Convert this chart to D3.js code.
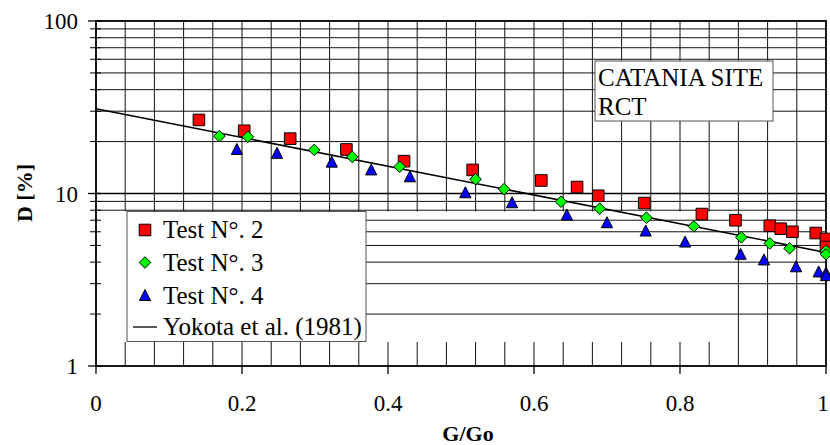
<!DOCTYPE html>
<html>
<head>
<meta charset="utf-8">
<script src="https://cdn.jsdelivr.net/npm/d3@7/dist/d3.min.js"></script>
<style>
  html, body { margin: 0; padding: 0; background: #fff; }
  svg { display: block; }
</style>
</head>
<body>
<svg id="chart" width="830" height="445" font-family="'Liberation Serif', 'DejaVu Serif', 'Times New Roman', serif"></svg>
<script>
// Damping ratio D [%] versus normalised shear modulus G/Go, Catania site (RCT)
const test2X = [0.141, 0.203, 0.266, 0.343, 0.422, 0.516, 0.610, 0.659, 0.688, 0.751, 0.830, 0.876, 0.923, 0.938, 0.954, 0.986, 1.000, 1.000];
const test2D = [26.7, 23.1, 20.8, 18.0, 15.4, 13.7, 11.9, 10.9, 9.7, 8.8, 7.6, 7.0, 6.5, 6.25, 6.0, 5.9, 5.45, 4.9];

const test3X = [0.169, 0.208, 0.299, 0.351, 0.416, 0.520, 0.559, 0.637, 0.690, 0.754, 0.819, 0.884, 0.923, 0.950, 1.000, 1.000];
const test3D = [21.5, 21.3, 17.9, 16.3, 14.3, 12.1, 10.6, 8.96, 8.17, 7.24, 6.45, 5.57, 5.14, 4.81, 4.65, 4.44];

const test4X = [0.193, 0.248, 0.323, 0.377, 0.430, 0.506, 0.570, 0.645, 0.700, 0.753, 0.807, 0.883, 0.915, 0.959, 0.990, 1.000, 1.000];
const test4D = [18.0, 17.1, 15.2, 13.7, 12.5, 10.1, 8.84, 7.5, 6.77, 6.06, 5.23, 4.44, 4.12, 3.76, 3.51, 3.46, 3.34];

// Yokota et al. (1981) curve: straight line in semi-log space
const yokotaX = [0, 1];
const yokotaD = [31.0, 4.55];

const xTickValues = [0, 0.2, 0.4, 0.6, 0.8, 1];
const xTickLabels = ["0", "0.2", "0.4", "0.6", "0.8", "1"];
const yTickValues = [1, 10, 100];
const yTickLabels = ["1", "10", "100"];

const legendLabels = ["Test N°. 2", "Test N°. 3", "Test N°. 4", "Yokota et al. (1981)"];
const siteLines = ["CATANIA SITE", "RCT"];

const svg = d3.select("#chart");
const x = d3.scaleLinear().domain([0, 1]).range([96, 826]);
const y = d3.scaleLog().domain([1, 100]).range([366, 21]);

// vertical grid every 0.04
const xGrid = d3.range(1, 25).map(i => +(i * 0.04).toFixed(2));
svg.append("g").selectAll("line").data(xGrid).join("line")
  .attr("x1", d => x(d)).attr("x2", d => x(d))
  .attr("y1", y(100)).attr("y2", y(1))
  .attr("stroke", "#111").attr("stroke-width", 1);

// blank band behind the legend area
svg.append("rect").attr("x", 97).attr("y", 211.5).attr("width", 628).attr("height", 130.5).attr("fill", "#fff");

// horizontal grid at 2..9 of each decade
const yGrid = [];
[1, 10].forEach(dec => { for (let k = 2; k <= 9; k++) yGrid.push(k * dec); });
svg.append("g").selectAll("line").data(yGrid).join("line")
  .attr("x1", x(0)).attr("x2", x(1))
  .attr("y1", d => y(d)).attr("y2", d => y(d))
  .attr("stroke", "#111").attr("stroke-width", 1);
svg.append("line").attr("x1", x(0)).attr("x2", x(1)).attr("y1", y(10)).attr("y2", y(10))
  .attr("stroke", "#000").attr("stroke-width", 1.3);

svg.append("rect").attr("x", 97).attr("y", 211.5).attr("width", 30).attr("height", 130.5).attr("fill", "#fff");

// frame
svg.append("rect").attr("x", x(0)).attr("y", y(100)).attr("width", x(1) - x(0)).attr("height", y(1) - y(100))
  .attr("fill", "none").attr("stroke", "#000").attr("stroke-width", 1.8);

// y ticks crossing the axis
svg.append("g").selectAll("line").data(yGrid).join("line")
  .attr("x1", 90).attr("x2", 101).attr("y1", d => y(d)).attr("y2", d => y(d))
  .attr("stroke", "#000").attr("stroke-width", 1);
svg.append("g").selectAll("line").data(yTickValues).join("line")
  .attr("x1", 88).attr("x2", 101).attr("y1", d => y(d)).attr("y2", d => y(d))
  .attr("stroke", "#000").attr("stroke-width", 1.3);

// x major ticks below axis
svg.append("g").selectAll("line").data(xTickValues).join("line")
  .attr("x1", d => x(d)).attr("x2", d => x(d)).attr("y1", y(1)).attr("y2", y(1) + 8)
  .attr("stroke", "#000").attr("stroke-width", 1.3);

// tick labels
svg.append("g").selectAll("text").data(yTickValues).join("text")
  .attr("x", 78).attr("y", d => y(d)).attr("dy", "0.35em")
  .attr("text-anchor", "end").attr("font-size", 23)
  .text((d, i) => yTickLabels[i]);
svg.append("g").selectAll("text").data(xTickValues).join("text")
  .attr("x", d => Math.min(x(d), 823)).attr("y", 411)
  .attr("text-anchor", "middle").attr("font-size", 23)
  .text((d, i) => xTickLabels[i]);

// axis titles
svg.append("text").attr("x", 468).attr("y", 441).attr("text-anchor", "middle")
  .attr("font-size", 22).attr("font-weight", "bold").text("G/Go");
svg.append("text").attr("transform", "translate(32,193) rotate(-90)").attr("text-anchor", "middle")
  .attr("font-size", 22).attr("font-weight", "bold").text("D [%]");

// Yokota line
const line = d3.line().x(d => x(d[0])).y(d => y(d[1]));
svg.append("path").datum(d3.zip(yokotaX, yokotaD)).attr("d", line)
  .attr("fill", "none").attr("stroke", "#000").attr("stroke-width", 1.6);

// marker shapes
const squarePath = "M-5.8,-5.8H5.8V5.8H-5.8Z";
const diamondPath = "M0,-5.8L5.8,0L0,5.8L-5.8,0Z";
const trianglePath = "M0,-6L5.6,5H-5.6Z";

function drawSeries(xs, ds, path, fill) {
  svg.append("g").selectAll("path").data(d3.zip(xs, ds)).join("path")
    .attr("transform", d => `translate(${x(d[0])},${y(d[1])})`)
    .attr("d", path).attr("fill", fill).attr("stroke", "#000").attr("stroke-width", 1);
}
drawSeries(test4X, test4D, trianglePath, "#0000ff");
drawSeries(test2X, test2D, squarePath, "#ff0000");
drawSeries(test3X, test3D, diamondPath, "#00ff00");

// legend
const lg = svg.append("g");
lg.append("rect").attr("x", 127).attr("y", 211.5).attr("width", 239).attr("height", 130)
  .attr("fill", "#fff").attr("stroke", "#555").attr("stroke-width", 1);
const rowY = [230, 262.5, 295.5, 327];
const legendShapes = [[squarePath, "#ff0000"], [diamondPath, "#00ff00"], [trianglePath, "#0000ff"]];
legendShapes.forEach((s, i) => {
  lg.append("path").attr("transform", `translate(145,${rowY[i]})`).attr("d", s[0])
    .attr("fill", s[1]).attr("stroke", "#000").attr("stroke-width", 1);
});
lg.append("line").attr("x1", 133).attr("x2", 157).attr("y1", rowY[3]).attr("y2", rowY[3])
  .attr("stroke", "#000").attr("stroke-width", 1.3);
lg.selectAll("text").data(legendLabels).join("text")
  .attr("x", 163).attr("y", (d, i) => rowY[i] + 8)
  .attr("font-size", 25).text(d => d);

// site annotation
const an = svg.append("g");
an.append("rect").attr("x", 595).attr("y", 61).attr("width", 178).attr("height", 60)
  .attr("fill", "#fff").attr("stroke", "#555").attr("stroke-width", 1);
an.selectAll("text").data(siteLines).join("text")
  .attr("x", 598).attr("y", (d, i) => 85.5 + i * 29.5)
  .attr("font-size", 25).text(d => d);
</script>
</body>
</html>
